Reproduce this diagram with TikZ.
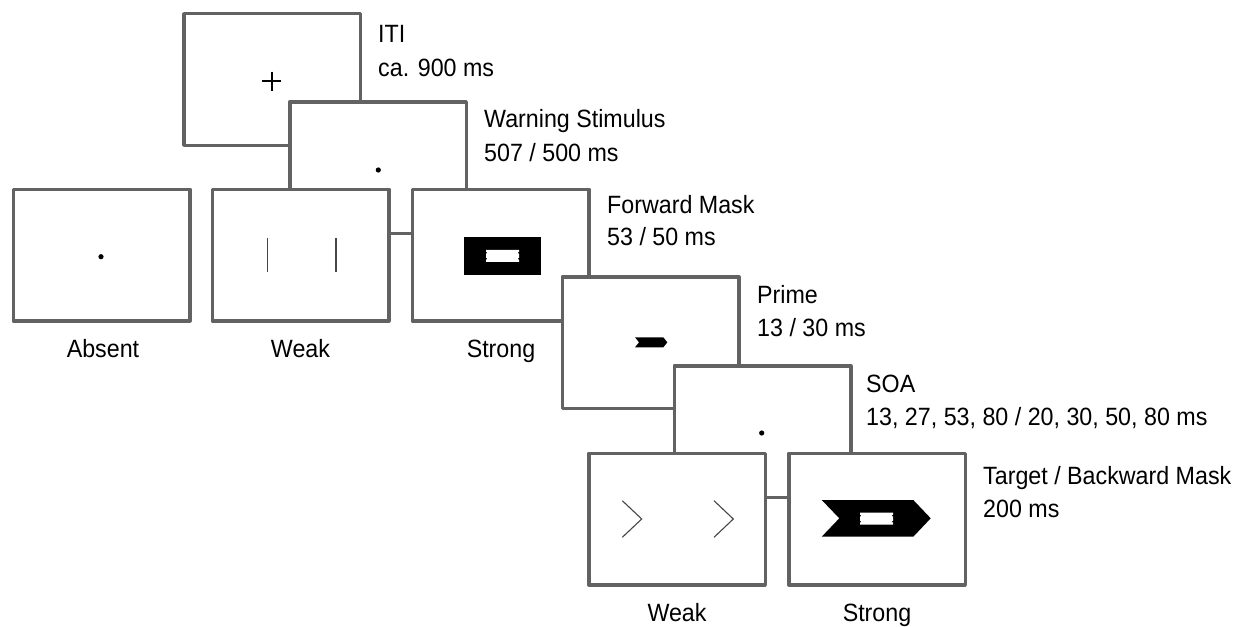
\documentclass[tikz,border=0pt]{standalone}
\usepackage{fontspec}
\setmainfont{Liberation Sans}[FakeStretch=0.93]
\definecolor{boxgray}{RGB}{98,98,98}
\definecolor{linegray}{RGB}{70,70,70}
\begin{document}
\begin{tikzpicture}[x=1pt,y=-1pt,
  box/.style={rectangle, draw=boxgray, line width=3.5pt, line join=round, fill=white,
    minimum width=176.5pt, minimum height=131.5pt, inner sep=0pt},
  lab/.style={anchor=base west, inner sep=0pt, font=\fontsize{25}{30}\selectfont},
  captxt/.style={anchor=base, inner sep=0pt, font=\fontsize{25}{30}\selectfont},
  thinline/.style={draw=linegray, line width=1.3pt},
  hole/.pic={\fill[white] (-16.5,-6) -- (16.5,-6) -- (16.5,-4) -- (15,-3) -- (16.5,-2)
      -- (16.5,2) -- (15,3) -- (16.5,4) -- (16.5,6) -- (-16.5,6) -- (-16.5,4) -- (-15,3)
      -- (-16.5,2) -- (-16.5,-2) -- (-15,-3) -- (-16.5,-4) -- cycle;}
]
\useasboundingbox (0,0) rectangle (1241,626);

% ITI
\node[box] (iti) at (272,79.5) {};
\draw[line width=2.4pt] (262,81.2) -- (281.3,81.2) (271.7,71.5) -- (271.7,90.9);
\node[lab] (itiA) at (378,42) {ITI};
\node[lab] (itiB) at (378,76) {ca. 900 ms};

% Warning
\node[box] (warn) at (378,167.5) {};
\fill (378.3,170) circle (2.6);
\node[lab] (warnA) at (484,127) {Warning Stimulus};
\node[lab] (warnB) at (484,161) {507 / 500 ms};

% Forward mask row
\node[box] (absent) at (101.5,255) {};
\fill (101,256.7) circle (2.6);
\node[captxt] (capAbsent) at (103,357) {Absent};

\node[box] (weak) at (300.5,255) {};
\draw[thinline] (267.7,238) -- (267.7,272) (336,238) -- (336,272);
\node[captxt] (capWeak) at (300.5,357) {Weak};

\node[box] (strong) at (500.5,255) {};
\fill (464,237.3) rectangle (540.7,274.7);
\pic at (502.5,255.8) {hole};
\node[captxt] (capStrong) at (501,357) {Strong};
\node[lab] (fmA) at (607,213) {Forward Mask};
\node[lab] (fmB) at (607,245) {53 / 50 ms};

% Prime
\node[box] (prime) at (650.5,342.5) {};
\fill (635,337.3) -- (663.3,337.3) -- (667.3,342.3) -- (663.3,347.3) -- (635,347.3) -- (639,342.3) -- cycle;
\node[lab] (primeA) at (757,303) {Prime};
\node[lab] (primeB) at (757,336) {13 / 30 ms};

% SOA
\node[box] (soa) at (762.5,431.5) {};
\fill (761.7,433) circle (2.6);
\node[lab] (soaA) at (866,392) {SOA};
\node[lab] (soaB) at (866,425) {13, 27, 53, 80 / 20, 30, 50, 80 ms};

% Target / backward mask
\node[box] (tweak) at (677,519) {};
\draw[thinline, line width=1.1pt] (622.3,500.7) -- (641.7,519) -- (622.3,537.3)
  (714,500.7) -- (733.3,519) -- (714,537.3);
\node[captxt] (capTWeak) at (677,621) {Weak};

\node[box] (tstrong) at (877,519) {};
\fill (821.7,500) -- (913.3,500) -- (930.7,518.3) -- (913.3,536.7) -- (821.7,536.7) -- (839.3,518.3) -- cycle;
\pic at (876.5,518.7) {hole};
\node[captxt] (capTStrong) at (877,621) {Strong};
\node[lab] (tgtA) at (983,484) {Target / Backward Mask};
\node[lab] (tgtB) at (983,517) {200 ms};
\end{tikzpicture}
\end{document}
